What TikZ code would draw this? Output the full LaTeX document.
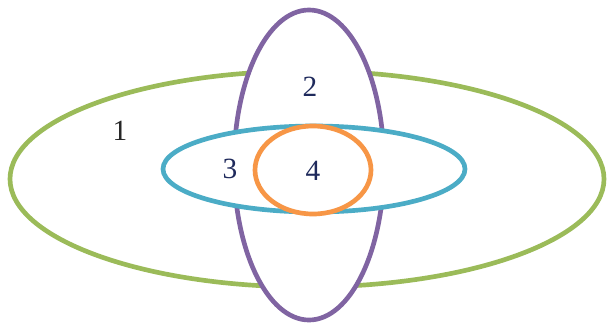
\documentclass[tikz,border=0pt]{standalone}
\usepackage{fontspec}
\setmainfont{Liberation Serif}
\definecolor{cgreen}{HTML}{9BBB59}
\definecolor{cpurple}{HTML}{8064A2}
\definecolor{cblue}{HTML}{4BACC6}
\definecolor{corange}{HTML}{F79646}
\definecolor{cnavy}{HTML}{1F2A5C}
\begin{document}
\begin{tikzpicture}[x=0.75pt,y=-0.75pt,
  ring/.style={line width=3.5pt,fill=white},
  lbl/.style={font=\fontsize{22}{24}\selectfont,text=cnavy,inner sep=0pt}]
\useasboundingbox (0,0) rectangle (609,326);
\draw[ring,draw=cgreen] (307,179) ellipse [x radius=297, y radius=108];
\draw[ring,draw=cpurple] (309,165) ellipse [x radius=75, y radius=155];
\draw[ring,draw=cblue] (314,169) ellipse [x radius=151, y radius=43];
\draw[ring,draw=corange] (313,170) ellipse [x radius=58, y radius=44];
\node[lbl,text=black!85] (n1) at (120,131) {1};
\node[lbl] (n2) at (310,87) {2};
\node[lbl] (n3) at (230,169) {3};
\node[lbl] (n4) at (313,171) {4};
\end{tikzpicture}
\end{document}
